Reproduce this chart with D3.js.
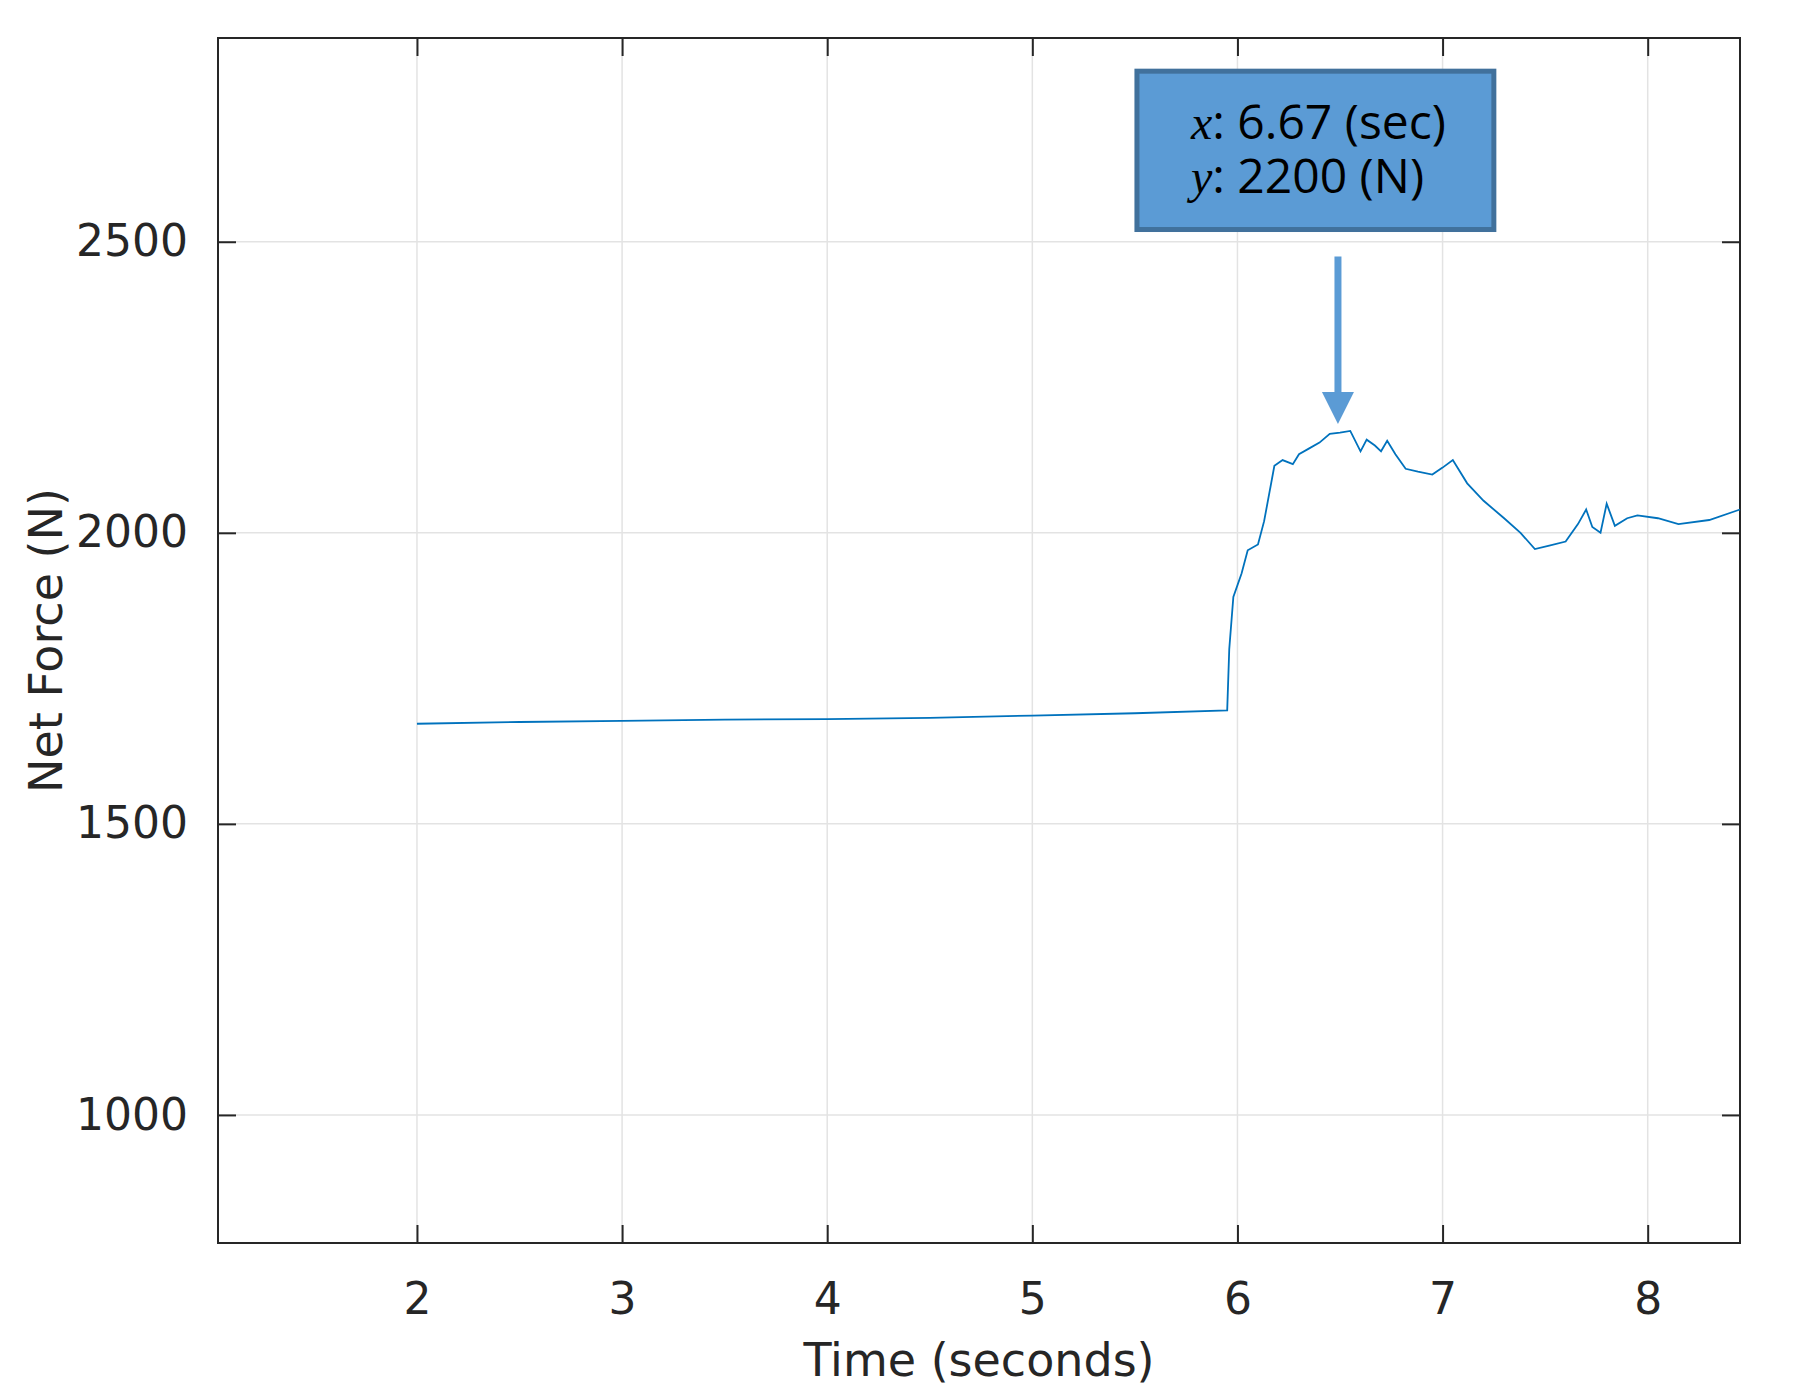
<!DOCTYPE html>
<html>
<head>
<meta charset="utf-8">
<script src="https://cdn.jsdelivr.net/npm/d3@7"></script>
<style>
body { margin: 0; background: #fff; }
text { font-family: "DejaVu Sans", sans-serif; fill: #262626; }
</style>
</head>
<body>
<svg width="1793" height="1399"></svg>
<script>
// time (s) and net force (N)
var times = [2.0, 2.5, 3.0, 3.5, 4.0, 4.5, 5.0, 5.5, 5.95, 5.96, 5.98, 6.02, 6.05, 6.1, 6.13, 6.18, 6.22, 6.27, 6.3,
  6.35, 6.4, 6.45, 6.5, 6.55, 6.6, 6.63, 6.67, 6.7, 6.73, 6.77, 6.82, 6.88, 6.95, 7.0, 7.05, 7.12, 7.2, 7.3,
  7.38, 7.45, 7.52, 7.6, 7.66, 7.7, 7.73, 7.77, 7.8, 7.84, 7.9, 7.95, 8.05, 8.15, 8.3, 8.45];
var force = [1672, 1675, 1677, 1679, 1680, 1682, 1686, 1690, 1695, 1800, 1890, 1930, 1970, 1980, 2020, 2115, 2125, 2118, 2135,
  2145, 2155, 2170, 2172, 2175, 2140, 2160, 2150, 2140, 2158, 2135, 2110, 2105, 2100, 2112, 2125, 2085, 2055, 2025,
  2000, 1972, 1978, 1985, 2015, 2040, 2010, 2000, 2050, 2012, 2025, 2030, 2025, 2015, 2022, 2040];
var xTicks = [2, 3, 4, 5, 6, 7, 8];
var yTicks = [1000, 1500, 2000, 2500];
var note = { x: 6.49, y: 2187, lines: ["6.67 (sec)", "2200 (N)"], vars: ["x", "y"] };

var svg = d3.select('svg');
var L = 218, R = 1740, T = 38, B = 1243;
var x = d3.scaleLinear().domain([1.03, 8.45]).range([L, R]);
var y = d3.scaleLinear().domain([780, 2850]).range([B, T]);

// grid
svg.append('g').selectAll('line').data(xTicks).enter().append('line')
  .attr('x1', x).attr('x2', x).attr('y1', T).attr('y2', B)
  .style('stroke', '#e3e3e3').style('stroke-width', 1.5);
svg.append('g').selectAll('line').data(yTicks).enter().append('line')
  .attr('y1', y).attr('y2', y).attr('x1', L).attr('x2', R)
  .style('stroke', '#e3e3e3').style('stroke-width', 1.5);

// axes with inward ticks
function styleAxis(g) {
  g.select('.domain').remove();
  g.selectAll('line').style('stroke', '#262626').style('stroke-width', 2);
  g.selectAll('text').style('font-size', '44px').style('fill', '#262626');
}
var fmt = d3.format('d');
svg.append('g').attr('transform', 'translate(0,' + B + ')')
  .call(d3.axisBottom(x).tickValues(xTicks).tickFormat(fmt).tickSizeInner(-18).tickSizeOuter(0).tickPadding(40))
  .call(styleAxis);
svg.append('g').attr('transform', 'translate(0,' + T + ')')
  .call(d3.axisTop(x).tickValues(xTicks).tickSizeInner(-18).tickSizeOuter(0).tickFormat(''))
  .call(styleAxis);
svg.append('g').attr('transform', 'translate(' + L + ',0)')
  .call(d3.axisLeft(y).tickValues(yTicks).tickFormat(fmt).tickSizeInner(-18).tickSizeOuter(0).tickPadding(30))
  .call(styleAxis);
svg.append('g').attr('transform', 'translate(' + R + ',0)')
  .call(d3.axisRight(y).tickValues(yTicks).tickSizeInner(-18).tickSizeOuter(0).tickFormat(''))
  .call(styleAxis);
svg.append('rect').attr('x', L).attr('y', T).attr('width', R - L).attr('height', B - T)
  .style('fill', 'none').style('stroke', '#262626').style('stroke-width', 2);

// labels
svg.append('text').attr('x', (L + R) / 2).attr('y', 1376).attr('text-anchor', 'middle')
  .style('font-size', '46px').text('Time (seconds)');
svg.append('text').attr('transform', 'translate(62,' + (T + B) / 2 + ') rotate(-90)')
  .attr('text-anchor', 'middle').style('font-size', '46px').text('Net Force (N)');

// line
var pts = times.map(function (t, i) { return [t, force[i]]; });
svg.append('path').datum(pts)
  .attr('d', d3.line().x(function (d) { return x(d[0]); }).y(function (d) { return y(d[1]); }))
  .style('fill', 'none').style('stroke', '#0072bd').style('stroke-width', 1.8);

// annotation
var bx0 = x(5.51), bx1 = x(7.25), by0 = y(2793), by1 = y(2521);
svg.append('rect').attr('x', bx0).attr('y', by0).attr('width', bx1 - bx0).attr('height', by1 - by0)
  .style('fill', '#5b9bd5').style('stroke', '#41719c').style('stroke-width', 5);
var ax = x(note.x), tip = y(note.y);
svg.append('line').attr('x1', ax).attr('x2', ax).attr('y1', by1 + 27).attr('y2', tip - 30)
  .style('stroke', '#5b9bd5').style('stroke-width', 7);
svg.append('path').attr('d', 'M' + (ax - 16) + ',' + (tip - 32) + 'L' + (ax + 16) + ',' + (tip - 32) + 'L' + ax + ',' + tip + 'Z')
  .style('fill', '#5b9bd5');
note.lines.forEach(function (s, i) {
  var t = svg.append('text').attr('x', bx0 + 54).attr('y', by0 + 68 + i * 54)
    .style('font-size', '48px').style('fill', '#000');
  t.append('tspan').style('font-family', '"Liberation Serif", serif').style('font-style', 'italic').text(note.vars[i]);
  t.append('tspan').style('font-family', '"Open Sans", sans-serif').text(': ' + s);
});
</script>
</body>
</html>
